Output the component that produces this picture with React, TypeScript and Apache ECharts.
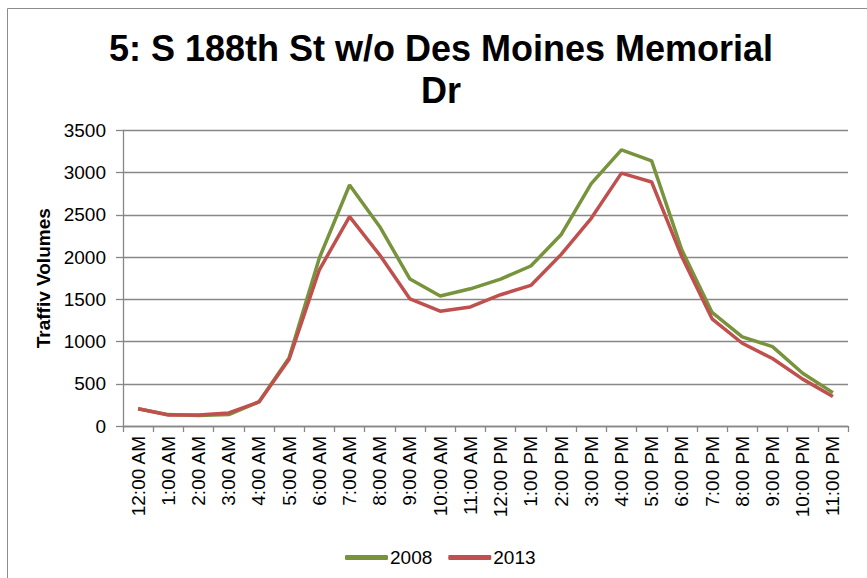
import React, { useEffect, useRef } from "react";
import * as echarts from "echarts";

const categories = [
  "12:00 AM", "1:00 AM", "2:00 AM", "3:00 AM", "4:00 AM", "5:00 AM",
  "6:00 AM", "7:00 AM", "8:00 AM", "9:00 AM", "10:00 AM", "11:00 AM",
  "12:00 PM", "1:00 PM", "2:00 PM", "3:00 PM", "4:00 PM", "5:00 PM",
  "6:00 PM", "7:00 PM", "8:00 PM", "9:00 PM", "10:00 PM", "11:00 PM",
];
const values2008 = [205, 135, 125, 135, 285, 810, 1990, 2855, 2360, 1740, 1540, 1625, 1740, 1895, 2265, 2870, 3270, 3140, 2085, 1345, 1055, 940, 625, 395];
const values2013 = [205, 130, 130, 155, 285, 790, 1850, 2480, 2025, 1505, 1360, 1410, 1555, 1665, 2030, 2460, 2995, 2890, 2005, 1270, 980, 800, 555, 350];
const seriesNames = ["2008", "2013"];
const titleText = "5: S 188th St w/o Des Moines Memorial\nDr";
const yAxisName = "Traffiv Volumes";

const FONT = "'Liberation Sans', Arial, sans-serif";
const GRID_GRAY = "#878787";

export default function App() {
  const ref = useRef<HTMLDivElement>(null);
  useEffect(() => {
    if (!ref.current) return;
    const chart = echarts.init(ref.current, null, { renderer: "svg" });
    chart.setOption({
      animation: false,
      backgroundColor: "#ffffff",
      graphic: [
        {
          type: "rect",
          shape: { x: 7.5, y: 8.5, width: 900, height: 620 },
          style: { fill: "none", stroke: "#8c8c8c", lineWidth: 1 },
          silent: true,
        },
      ],
      title: {
        text: titleText,
        left: 436,
        top: 22,
        textAlign: "center",
        textStyle: {
          fontFamily: FONT,
          fontSize: 36,
          fontWeight: "bold",
          color: "#000",
          lineHeight: 42,
        },
      },
      legend: {
        data: seriesNames,
        left: 340,
        top: 543,
        itemWidth: 43,
        itemHeight: 5,
        itemGap: 16,
        icon: "roundRect",
        textStyle: { fontFamily: FONT, fontSize: 19, color: "#000", padding: [0, 0, 0, -3] },
      },
      grid: { left: 123, right: 19, top: 130.5, bottom: 152, containLabel: false },
      xAxis: {
        type: "category",
        data: categories,
        boundaryGap: true,
        axisLine: { lineStyle: { color: GRID_GRAY, width: 1.3 } },
        axisTick: { show: true, length: 6, lineStyle: { color: GRID_GRAY, width: 1.3 } },
        axisLabel: {
          rotate: 90,
          interval: 0,
          margin: 10,
          fontFamily: FONT,
          fontSize: 19,
          color: "#000",
        },
      },
      yAxis: {
        type: "value",
        min: 0,
        max: 3500,
        interval: 500,
        name: yAxisName,
        nameLocation: "middle",
        nameGap: 67,
        nameRotate: 90,
        nameTextStyle: { fontFamily: FONT, fontSize: 19, fontWeight: "bold", color: "#000" },
        axisLine: { show: true, lineStyle: { color: GRID_GRAY, width: 1.3 } },
        axisTick: { show: true, length: 7, lineStyle: { color: GRID_GRAY, width: 1.3 } },
        axisLabel: {
          margin: 17,
          fontFamily: FONT,
          fontSize: 19,
          color: "#000",
          formatter: (v: number) => String(v),
        },
        splitLine: { show: true, lineStyle: { color: GRID_GRAY, width: 1.3 } },
      },
      series: [
        {
          name: seriesNames[0],
          type: "line",
          data: values2008,
          symbol: "none",
          color: "#77933C",
          lineStyle: { color: "#77933C", width: 3.5 },
        },
        {
          name: seriesNames[1],
          type: "line",
          data: values2013,
          symbol: "none",
          color: "#C0504D",
          lineStyle: { color: "#C0504D", width: 3.5 },
        },
      ],
    });
    return () => chart.dispose();
  }, []);
  return (
    <div
      ref={ref}
      style={{ position: "fixed", left: 0, top: 0, width: 867, height: 578 }}
    />
  );
}
